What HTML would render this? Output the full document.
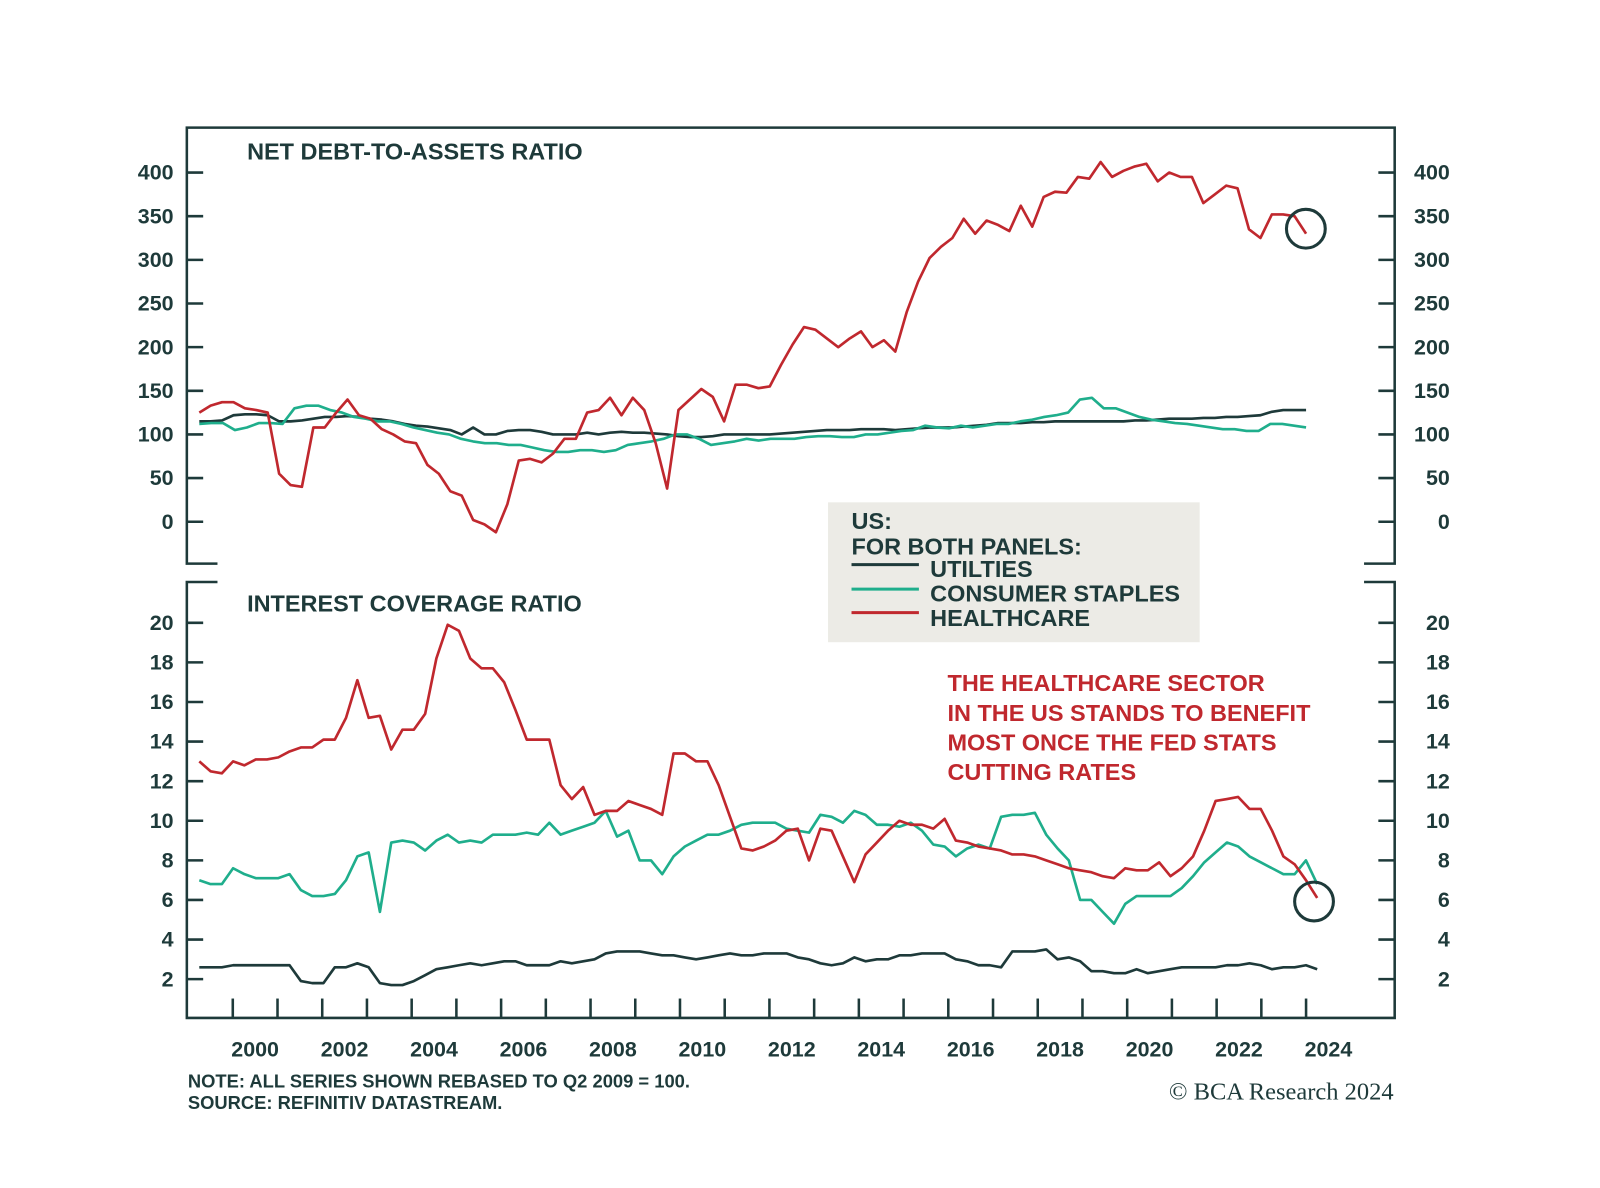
<!DOCTYPE html>
<html><head><meta charset="utf-8"><style>
html,body{margin:0;padding:0;background:#fff;}
svg{display:block;font-family:"Liberation Sans",sans-serif;font-weight:bold;}
</style></head><body>
<svg id="chart" width="1600" height="1188" viewBox="0 0 1600 1188">
<g transform="scale(1.021)">
<g id="frame" stroke="#1e3a3a" stroke-width="2.5" fill="none">
<path d="M213,552 H183 V125 H1366 V552 H1336"/>
<path d="M213,570 H183 V997 H1366 V570 H1336"/>
</g>
<g id="axes"></g>
<g id="series"></g>
<text x="242" y="156" font-size="23" fill="#1e3a3a">NET DEBT-TO-ASSETS RATIO</text>
<text x="242" y="599" font-size="23" fill="#1e3a3a">INTEREST COVERAGE RATIO</text>
<g>
<rect x="811" y="492" width="364" height="137" fill="#ecebe6"/>
<text x="834" y="518" font-size="23" fill="#1e3a3a">US:</text>
<text x="834" y="543" font-size="23" fill="#1e3a3a">FOR BOTH PANELS:</text>
<line x1="834" y1="553" x2="900" y2="553" stroke="#1e3a3a" stroke-width="3"/>
<text x="911" y="565" font-size="23" fill="#1e3a3a">UTILTIES</text>
<line x1="834" y1="577" x2="900" y2="577" stroke="#1fae8c" stroke-width="3"/>
<text x="911" y="589" font-size="23" fill="#1e3a3a">CONSUMER STAPLES</text>
<line x1="834" y1="600" x2="900" y2="600" stroke="#c0282e" stroke-width="3"/>
<text x="911" y="613" font-size="23" fill="#1e3a3a">HEALTHCARE</text>
</g>
<g font-size="23" fill="#c0282e">
<text x="928" y="677">THE HEALTHCARE SECTOR</text>
<text x="928" y="706">IN THE US STANDS TO BENEFIT</text>
<text x="928" y="735">MOST ONCE THE FED STATS</text>
<text x="928" y="764">CUTTING RATES</text>
</g>
<circle cx="1279" cy="224" r="19" fill="none" stroke="#1e3a3a" stroke-width="3"/>
<circle cx="1287" cy="883" r="19" fill="none" stroke="#1e3a3a" stroke-width="3"/>
<text x="184" y="1065" font-size="18" fill="#1e3a3a">NOTE: ALL SERIES SHOWN REBASED TO Q2 2009 = 100.</text>
<text x="184" y="1086" font-size="18" fill="#1e3a3a">SOURCE: REFINITIV DATASTREAM.</text>
<text x="1365" y="1077" font-size="24" fill="#1e3a3a" text-anchor="end" font-weight="normal" font-family="Liberation Serif,serif">© BCA Research 2024</text>
</g>
</svg>
<script>
const years=[2000,2002,2004,2006,2008,2010,2012,2014,2016,2018,2020,2022,2024];
const topTicks=[0,50,100,150,200,250,300,350,400];
const botTicks=[2,4,6,8,10,12,14,16,18,20];
const topStart=1999.25, topEnd=2024.0, botStart=1999.25, botEnd=2024.25;
const topHealth=[125,133,137,137,130,128,125,55,42,40,108,108,125,140,122,118,106,100,92,90,65,55,35,30,2,-3,-12,20,70,72,68,78,95,95,125,128,142,122,142,128,90,38,128,140,152,143,115,157,157,153,155,180,203,223,220,210,200,210,218,200,208,195,240,275,302,315,325,347,330,345,340,333,362,338,372,378,377,395,393,412,395,402,407,410,390,400,395,395,365,375,385,382,335,325,352,352,350,330];
const topUtil=[115,115,116,122,123,123,122,115,115,116,118,120,120,121,120,118,117,115,112,110,109,107,105,100,108,100,100,104,105,105,103,100,100,100,102,100,102,103,102,102,101,100,98,97,97,98,100,100,100,100,100,101,102,103,104,105,105,105,106,106,106,105,106,107,108,108,108,109,110,111,113,113,113,114,114,115,115,115,115,115,115,115,116,116,117,118,118,118,119,119,120,120,121,122,126,128,128,128];
const topStaples=[112,113,113,105,108,113,113,112,130,133,133,128,125,120,118,115,115,112,108,105,102,100,95,92,90,90,88,88,85,82,80,80,82,82,80,82,88,90,92,95,100,100,95,88,90,92,95,93,95,95,95,97,98,98,97,97,100,100,102,104,105,110,108,107,110,108,110,112,112,115,117,120,122,125,140,142,130,130,125,120,117,115,113,112,110,108,106,106,104,104,112,112,110,108];
const botHealth=[13,12.5,12.4,13,12.8,13.1,13.1,13.2,13.5,13.7,13.7,14.1,14.1,15.2,17.1,15.2,15.3,13.6,14.6,14.6,15.4,18.2,19.9,19.6,18.2,17.7,17.7,17.0,15.6,14.1,14.1,14.1,11.8,11.1,11.7,10.3,10.5,10.5,11.0,10.8,10.6,10.3,13.4,13.4,13.0,13.0,11.8,10.2,8.6,8.5,8.7,9.0,9.5,9.6,8.0,9.6,9.5,8.2,6.9,8.3,8.9,9.5,10.0,9.8,9.8,9.6,10.1,9.0,8.9,8.7,8.6,8.5,8.3,8.3,8.2,8.0,7.8,7.6,7.5,7.4,7.2,7.1,7.6,7.5,7.5,7.9,7.2,7.6,8.2,9.5,11.0,11.1,11.2,10.6,10.6,9.5,8.2,7.8,7.0,6.1];
const botStaples=[7.0,6.8,6.8,7.6,7.3,7.1,7.1,7.1,7.3,6.5,6.2,6.2,6.3,7.0,8.2,8.4,5.4,8.9,9.0,8.9,8.5,9.0,9.3,8.9,9.0,8.9,9.3,9.3,9.3,9.4,9.3,9.9,9.3,9.5,9.7,9.9,10.5,9.2,9.5,8.0,8.0,7.3,8.2,8.7,9.0,9.3,9.3,9.5,9.8,9.9,9.9,9.9,9.6,9.5,9.4,10.3,10.2,9.9,10.5,10.3,9.8,9.8,9.7,9.9,9.5,8.8,8.7,8.2,8.6,8.8,8.6,10.2,10.3,10.3,10.4,9.3,8.6,8.0,6.0,6.0,5.4,4.8,5.8,6.2,6.2,6.2,6.2,6.6,7.2,7.9,8.4,8.9,8.7,8.2,7.9,7.6,7.3,7.3,8.0,6.8];
const botUtil=[2.6,2.6,2.6,2.7,2.7,2.7,2.7,2.7,2.7,1.9,1.8,1.8,2.6,2.6,2.8,2.6,1.8,1.7,1.7,1.9,2.2,2.5,2.6,2.7,2.8,2.7,2.8,2.9,2.9,2.7,2.7,2.7,2.9,2.8,2.9,3.0,3.3,3.4,3.4,3.4,3.3,3.2,3.2,3.1,3.0,3.1,3.2,3.3,3.2,3.2,3.3,3.3,3.3,3.1,3.0,2.8,2.7,2.8,3.1,2.9,3.0,3.0,3.2,3.2,3.3,3.3,3.3,3.0,2.9,2.7,2.7,2.6,3.4,3.4,3.4,3.5,3.0,3.1,2.9,2.4,2.4,2.3,2.3,2.5,2.3,2.4,2.5,2.6,2.6,2.6,2.6,2.7,2.7,2.8,2.7,2.5,2.6,2.6,2.7,2.5];

const NS='http://www.w3.org/2000/svg';
const xScale=y=>228+(y-2000)*43.8;
const yTop=v=>511-v*(342/400);
const yBot=v=>959-(v-2)*(349/18);
const axes=document.getElementById('axes'), series=document.getElementById('series');
function mk(tag,attrs,parent){const e=document.createElementNS(NS,tag);for(const k in attrs)e.setAttribute(k,attrs[k]);parent.appendChild(e);return e;}
for(let y=2000;y<=2024;y++){
  const t=mk('line',{x1:xScale(y),x2:xScale(y),y1:997,y2:978,stroke:'#1e3a3a','stroke-width':2.5},axes);
  
  
}
years.forEach(y=>{
  const t=mk('text',{x:xScale(y+0.5),y:1035,'font-size':21,fill:'#1e3a3a','text-anchor':'middle'},axes);
  t.textContent=y;
  
  
});
function yAxis(ticks,sc){
  ticks.forEach(v=>{
    const py=sc(v);
    const l1=mk('line',{x1:183,x2:199,y1:py,y2:py,stroke:'#1e3a3a','stroke-width':2.5},axes);
    
    
    const l2=mk('line',{x1:1350,x2:1366,y1:py,y2:py,stroke:'#1e3a3a','stroke-width':2.5},axes);
    
    
    const a=mk('text',{x:170,y:py+7,'font-size':21,fill:'#1e3a3a','text-anchor':'end'},axes);
    a.textContent=v;
    
    
    const b=mk('text',{x:1420,y:py+7,'font-size':21,fill:'#1e3a3a','text-anchor':'end'},axes);
    b.textContent=v;
    
    
  });
}
yAxis(topTicks,yTop);yAxis(botTicks,yBot);
function line(vals,start,end,sc,color,name){
  const step=(end-start)/(vals.length-1);
  const d=vals.map((v,i)=>(i?'L':'M')+xScale(start+i*step).toFixed(1)+','+sc(v).toFixed(1)).join(' ');
  const p=mk('path',{d:d,fill:'none',stroke:color,'stroke-width':2.6,'stroke-linejoin':'round'},series);
  
  
}
line(topUtil,topStart,topEnd,yTop,'#1e3a3a','top-utilities-line');
line(topStaples,topStart,topEnd,yTop,'#1fae8c','top-staples-line');
line(topHealth,topStart,topEnd,yTop,'#c0282e','top-healthcare-line');
line(botUtil,botStart,botEnd,yBot,'#1e3a3a','bottom-utilities-line');
line(botStaples,botStart,botEnd,yBot,'#1fae8c','bottom-staples-line');
line(botHealth,botStart,botEnd,yBot,'#c0282e','bottom-healthcare-line');
</script>
</body></html>
